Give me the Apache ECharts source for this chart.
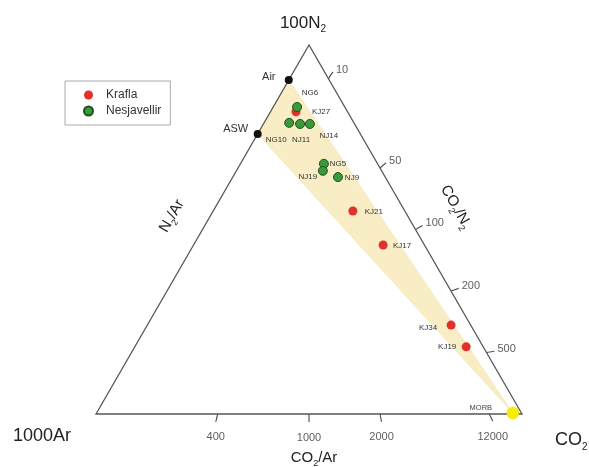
<!DOCTYPE html>
<html>
<head>
<meta charset="utf-8">
<script src="https://cdn.jsdelivr.net/npm/echarts@6/dist/echarts.min.js"></script>
<style>html,body{margin:0;padding:0;background:#fff}#c{width:589px;height:467px}</style>
</head>
<body>
<div id="c"></div>
<script>
// ---- data: ternary compositions [100N2, 1000Ar, CO2] (relative %) ----
const refNames = ['Air', 'ASW'];
const refValues = [[90.5, 9.5, 0], [75.9, 24.1, 0]];
const morbNames = ['MORB'];
const morbValues = [[0.3, 2.0, 97.7]];
const kraflaNames = ['KJ27', 'KJ21', 'KJ17', 'KJ34', 'KJ19'];
const kraflaValues = [[81.9, 12.1, 6.0], [55.0, 12.2, 32.8], [45.8, 9.7, 44.5], [24.1, 4.6, 71.3], [18.2, 4.0, 77.8]];
const nesjNames = ['NG6', 'NG10', 'NJ11', 'NJ14', 'NG5', 'NJ19', 'NJ9'];
const nesjValues = [[83.2, 11.2, 5.6], [78.9, 15.2, 5.9], [78.6, 12.8, 8.6], [78.6, 10.5, 10.9], [67.8, 12.6, 19.6], [65.9, 13.8, 20.3], [64.2, 11.1, 24.7]];
const co2ArTicks = [400, 1000, 2000, 12000];   // bottom edge, CO2/Ar
const co2N2Ticks = [10, 50, 100, 200, 500];     // right edge, CO2/N2

// ---- helpers ----
const SQ = Math.sqrt(3) / 2;
function toXY(t) {
  const s = t[0] + t[1] + t[2];
  const a = t[0] / s, c = t[2] / s;
  return [c + a / 2, a * SQ];
}
const labelOffsets = {
  Air: [-20, -3], ASW: [-22, -5], MORB: [-32, -5],
  NG6: [13, -14], KJ27: [25, 0], NG10: [-13, 17], NJ11: [1, 16], NJ14: [19, 12],
  NG5: [14, 0], NJ19: [-15, 6], NJ9: [14, 1], KJ21: [21, 1], KJ17: [19, 1],
  KJ34: [-23, 3], KJ19: [-19, 0]
};
function pts(names, values, fontSize) {
  return names.map((n, i) => ({
    name: n,
    value: toXY(values[i]),
    label: { offset: labelOffsets[n], fontSize: fontSize }
  }));
}
const FONT = 'Liberation Sans, Arial, sans-serif';
const TL = 0.019; // tick length in data units

const tickSegs = [], tickLabels = [];
co2ArTicks.forEach(r => {
  const f = r / (r + 1000);
  const p = [f, 0];
  const dx = f - 0.5, dy = -SQ, L = Math.hypot(dx, dy);
  const e = [p[0] + dx / L * TL, p[1] + dy / L * TL];
  tickSegs.push([p[0], p[1], e[0], e[1]]);
  tickLabels.push({ value: [e[0], e[1], r], label: { position: 'bottom', distance: 10 } });
});
co2N2Ticks.forEach(r => {
  const c = r / (r + 100), a = 100 / (r + 100);
  const p = [c + a / 2, a * SQ];
  const L = Math.hypot(p[0], p[1]);
  const e = [p[0] + p[0] / L * TL, p[1] + p[1] / L * TL];
  tickSegs.push([p[0], p[1], e[0], e[1]]);
  tickLabels.push({ value: [e[0], e[1], r], label: { position: 'right', distance: 3, offset: [0, -2] } });
});

const triangle = [[0, 0], [1, 0], [0.5, SQ]];
const fieldPoly = [toXY(refValues[0]), toXY(refValues[1]), toXY(morbValues[0])];

const chart = echarts.init(document.getElementById('c'));
const subStyle = (fs) => ({ fontSize: fs, fontFamily: FONT, fill: '#222', color: '#222', verticalAlign: 'bottom', padding: [0, 0, -3, 0] });
chart.setOption({
  animation: false,
  backgroundColor: '#fff',
  grid: { left: 96, top: 45, width: 426, height: 369 },
  xAxis: { type: 'value', min: 0, max: 1, show: false },
  yAxis: { type: 'value', min: 0, max: SQ, show: false },
  legend: {
    left: 65, top: 81, orient: 'vertical',
    data: ['Krafla', 'Nesjavellir'],
    itemWidth: 25, itemHeight: 9, itemGap: 4,
    padding: [8, 9, 8, 18],
    borderColor: '#aaa', borderWidth: 1,
    textStyle: { fontSize: 12, fontFamily: FONT, color: '#333' }
  },
  graphic: [
    { type: 'text', x: 303, y: 23, style: { text: '{m|100N}{s|2}', align: 'center', verticalAlign: 'middle', rich: { m: { fontSize: 17, fontFamily: FONT, fill: '#222' }, s: subStyle(10) } } },
    { type: 'text', x: 13, y: 436, style: { text: '1000Ar', fontSize: 18, fontFamily: FONT, fill: '#222', align: 'left', verticalAlign: 'middle' } },
    { type: 'text', x: 555, y: 440, style: { text: '{m|CO}{s|2}', align: 'left', verticalAlign: 'middle', rich: { m: { fontSize: 18, fontFamily: FONT, fill: '#222' }, s: subStyle(10) } } },
    { type: 'text', x: 314, y: 458, style: { text: '{m|CO}{s|2}{m|/Ar}', align: 'center', verticalAlign: 'middle', rich: { m: { fontSize: 15, fontFamily: FONT, fill: '#222' }, s: subStyle(9) } } },
    { type: 'text', x: 172, y: 216, rotation: Math.PI / 3, style: { text: '{m|N}{s|2}{m|/Ar}', align: 'center', verticalAlign: 'middle', rich: { m: { fontSize: 15, fontFamily: FONT, fill: '#222' }, s: subStyle(9) } } },
    { type: 'text', x: 456, y: 207, rotation: -Math.PI / 3, style: { text: '{m|CO}{s|2}{m|/N}{s|2}', align: 'center', verticalAlign: 'middle', rich: { m: { fontSize: 15, fontFamily: FONT, fill: '#222' }, s: subStyle(9) } } }
  ],
  series: [
    {
      type: 'custom', name: 'field', silent: true, z: 1,
      data: [0],
      renderItem: (params, api) => ({
        type: 'polygon',
        shape: { points: fieldPoly.map(p => api.coord(p)) },
        style: { fill: '#f8edc4', stroke: '#efe0a8', lineWidth: 0.5 }
      })
    },
    {
      type: 'custom', name: 'frame', silent: true, z: 2,
      data: [0],
      renderItem: (params, api) => ({
        type: 'polygon',
        shape: { points: triangle.map(p => api.coord(p)) },
        style: { fill: 'none', stroke: '#555', lineWidth: 1.3 }
      })
    },
    {
      type: 'custom', name: 'ticks', silent: true, z: 2, clip: false,
      data: tickSegs,
      renderItem: (params, api) => {
        const a = api.coord([api.value(0), api.value(1)]);
        const b = api.coord([api.value(2), api.value(3)]);
        return { type: 'line', shape: { x1: a[0], y1: a[1], x2: b[0], y2: b[1] }, style: { stroke: '#555', lineWidth: 1.2 } };
      }
    },
    {
      type: 'scatter', name: 'tickLabels', silent: true, symbolSize: 0, z: 3, clip: false,
      data: tickLabels,
      label: { show: true, formatter: p => p.value[2], fontSize: 11, fontFamily: FONT, color: '#333' }
    },
    {
      type: 'scatter', name: 'refs', symbolSize: 8, z: 5, clip: false,
      itemStyle: { color: '#111', opacity: 1 },
      data: pts(refNames, refValues, 11),
      label: { show: true, position: 'inside', formatter: '{b}', fontFamily: FONT, color: '#333' }
    },
    {
      type: 'scatter', name: 'MORB', symbolSize: 12, z: 5, clip: false,
      itemStyle: { color: '#f5ee00', borderColor: '#e6d800', borderWidth: 0.5, opacity: 1 },
      data: pts(morbNames, morbValues, 7.5),
      label: { show: true, position: 'inside', formatter: '{b}', fontFamily: FONT, color: '#444' }
    },
    {
      type: 'scatter', name: 'Krafla', symbolSize: 9, z: 6,
      itemStyle: { color: '#e3302b', opacity: 1 },
      data: pts(kraflaNames, kraflaValues, 8),
      label: { show: true, position: 'inside', formatter: '{b}', fontFamily: FONT, color: '#333' }
    },
    {
      type: 'scatter', name: 'Nesjavellir', symbolSize: 9, z: 7,
      itemStyle: { color: '#3a9a3a', borderColor: '#1f4f1f', borderWidth: 1, opacity: 1 },
      data: pts(nesjNames, nesjValues, 8),
      label: { show: true, position: 'inside', formatter: '{b}', fontFamily: FONT, color: '#333' }
    }
  ]
});
</script>
</body>
</html>
